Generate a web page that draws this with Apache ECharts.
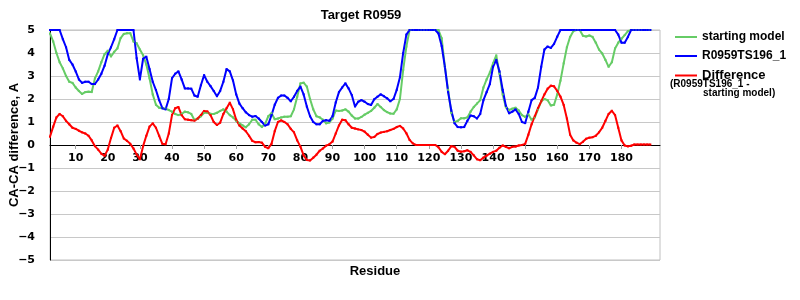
<!DOCTYPE html>
<html>
<head>
<meta charset="utf-8">
<script src="https://cdn.jsdelivr.net/npm/echarts@6/dist/echarts.min.js"></script>
<style>
html,body{margin:0;padding:0;background:#fff;}
#chart{width:800px;height:300px;}
</style>
</head>
<body>
<div id="chart"></div>
<script>
// Residue numbers shown on the category axis
var firstResidue = 2;
var lastResidue = 192;
var residues = [];
for (var r = firstResidue; r <= lastResidue; r++) residues.push(String(r));

var seriesNames = ['starting model', 'R0959TS196_1', 'Difference'];
var xTickLabels = ['10','20','30','40','50','60','70','80','90','100','110','120','130','140','150','160','170','180'];
var yTickLabels = [-5,-4,-3,-2,-1,0,1,2,3,4,5];

// starting model (residues 2..189)
var startingModel = [
  4.85, 4.5, 4.0, 3.6, 3.33, 3.0, 2.75, 2.7, 2.5, 2.35,
  2.22, 2.3, 2.32, 2.3, 2.9, 3.2, 3.6, 3.95, 4.1, 3.85,
  4.05, 4.2, 4.65, 4.83, 4.86, 4.86, 4.5, 4.42, 4.15, 3.9,
  3.5, 2.9, 2.2, 1.75, 1.62, 1.6, 1.58, 1.52, 1.45, 1.35,
  1.3, 1.35, 1.45, 1.42, 1.35, 1.09, 1.14, 1.25, 1.4, 1.4,
  1.36, 1.35, 1.4, 1.48, 1.55, 1.45, 1.3, 1.2, 1.05, 0.94,
  0.85, 0.77, 0.9, 1.1, 1.1, 0.9, 0.78, 0.92, 1.25, 1.38,
  1.12, 1.15, 1.2, 1.23, 1.23, 1.25, 1.55, 2.1, 2.68, 2.71,
  2.54, 2.0, 1.55, 1.25, 1.2, 1.1, 0.94, 0.98, 1.15, 1.5,
  1.48, 1.5, 1.55, 1.45, 1.28, 1.15, 1.15, 1.22, 1.32, 1.4,
  1.48, 1.62, 1.78, 1.65, 1.52, 1.43, 1.37, 1.36, 1.55, 2.0,
  3.26, 4.28, 5, 5, 5, 5, 5, 5, 5, 5,
  5, 5, 4.64, 3.4, 2.4, 1.4, 1.0, 1.05, 1.16, 1.16,
  1.2, 1.45, 1.65, 1.8, 1.95, 2.5, 2.85, 3.15, 3.55, 3.9,
  3.1, 2.2, 1.64, 1.52, 1.58, 1.62, 1.5, 1.3, 1.22, 1.33,
  1.1, 1.2, 1.55, 1.9, 2.0, 1.95, 1.72, 1.75, 2.2, 2.8,
  3.55, 4.25, 4.7, 4.95, 5, 5, 4.75, 4.72, 4.76, 4.7,
  4.45, 4.15, 3.98, 3.7, 3.4, 3.6, 4.2, 4.45, 4.62, 4.78,
  4.95, 5, 5, 5, 5, 5, 5, 5
];

// R0959TS196_1 (residues 2..189)
var model = [
  5, 5, 5, 5, 4.6, 4.25, 3.7, 3.5, 3.2, 2.85,
  2.7, 2.75, 2.75, 2.65, 2.65, 2.85, 3.1, 3.45, 3.95, 4.25,
  4.6, 5, 5, 5, 5, 5, 5, 3.77, 2.85, 3.75,
  3.84, 3.3, 2.75, 2.39, 1.95, 1.6, 1.55, 2.0, 2.9, 3.1,
  3.2, 2.85, 2.46, 2.46, 2.45, 2.15, 2.1, 2.6, 3.04, 2.75,
  2.56, 2.35, 2.12, 2.35, 2.75, 3.3, 3.2, 2.8, 2.2, 1.8,
  1.6, 1.42, 1.3, 1.23, 1.26, 1.15, 1.0, 0.85, 0.9, 1.3,
  1.75, 2.05, 2.15, 2.15, 2.05, 1.9, 2.1, 2.35, 2.54, 2.2,
  1.67, 1.25, 1.0, 0.9, 0.9, 1.05, 1.08, 1.05, 1.25, 1.85,
  2.3, 2.5, 2.68, 2.46, 2.17, 1.67, 1.88, 1.95, 1.88, 1.78,
  1.74, 1.99, 2.1, 2.2, 2.12, 2.03, 1.9, 2.0, 2.4, 2.95,
  3.99, 4.8, 5, 5, 5, 5, 5, 5, 5, 5,
  5, 4.85, 4.3, 3.4, 2.3, 1.5, 0.95, 0.78, 0.77, 0.78,
  1.05, 1.28, 1.25, 1.15, 1.35, 1.95, 2.3, 2.65, 3.4, 3.7,
  3.2, 2.4, 1.7, 1.38, 1.45, 1.55, 1.35, 1.0, 0.95, 1.45,
  1.95, 2.05, 2.5, 3.4, 4.15, 4.28, 4.22, 4.4, 4.71, 5,
  5, 5, 5, 5, 5, 5, 5, 5, 5, 5,
  5, 5, 5, 5, 5, 5, 5, 4.8, 4.45, 4.45,
  4.7, 5, 5, 5, 5, 5, 5, 5
];

// Difference (R0959TS196_1 - starting model), residues 2..189
var difference = [
  0.36, 0.8, 1.2, 1.35, 1.25, 1.05, 0.9, 0.75, 0.7, 0.62,
  0.55, 0.5, 0.4, 0.2, -0.05, -0.2, -0.38, -0.47, -0.2, 0.3,
  0.75, 0.85, 0.6, 0.28, 0.18, 0.05, -0.15, -0.42, -0.62, -0.05,
  0.4, 0.8, 0.94, 0.75, 0.4, 0.05, 0.03, 0.5, 1.3, 1.6,
  1.65, 1.3, 1.12, 1.1, 1.08, 1.06, 1.15, 1.3, 1.48, 1.46,
  1.3, 1.0, 0.87, 0.97, 1.35, 1.6, 1.84, 1.55, 1.1, 0.85,
  0.72, 0.6, 0.4, 0.18, 0.12, 0.13, 0.1, -0.08, -0.14, 0.05,
  0.6, 1.0, 1.07, 1.0, 0.9, 0.7, 0.55, 0.2, -0.07, -0.45,
  -0.65, -0.67, -0.55, -0.42, -0.25, -0.15, -0.03, 0.03, 0.15, 0.5,
  0.85, 1.1, 1.08, 0.9, 0.75, 0.72, 0.68, 0.65, 0.58, 0.45,
  0.32, 0.35, 0.48, 0.54, 0.57, 0.6, 0.65, 0.7, 0.78, 0.83,
  0.72, 0.51, 0.22, 0.07, 0, 0, 0, 0, 0, 0,
  0, -0.1, -0.3, -0.4, -0.25, -0.05, -0.08, -0.25, -0.29, -0.27,
  -0.23, -0.3, -0.45, -0.62, -0.66, -0.55, -0.46, -0.38, -0.3, -0.25,
  -0.12, -0.02, -0.08, -0.14, -0.08, -0.07, -0.02, 0, 0.05, 0.45,
  0.9, 1.25, 1.6, 1.9, 2.2, 2.45, 2.58, 2.55, 2.35, 2.1,
  1.74, 1.15, 0.45, 0.2, 0.1, 0.04, 0.14, 0.27, 0.32, 0.34,
  0.4, 0.55, 0.75, 1.05, 1.35, 1.49, 1.3, 0.75, 0.2, -0.02,
  -0.06, -0.03, 0.02, 0.02, 0.02, 0.02, 0.02, 0.02
];

var colors = ['#66CC66', '#0000FF', '#FF0000'];
var FONT = '"Liberation Sans", Arial, sans-serif';
var TICKFONT = '"DejaVu Sans", sans-serif';

function isLabelled(idx, val) {
  return xTickLabels.indexOf(String(val)) >= 0;
}

function lineSeries(name, data, color) {
  return {
    name: name,
    type: 'line',
    data: data,
    clip: false,
    symbol: 'rect',
    symbolSize: 2,
    showSymbol: true,
    animation: false,
    lineStyle: { color: color, width: 2 },
    itemStyle: { color: color },
    emphasis: { disabled: true }
  };
}

var chart = echarts.init(document.getElementById('chart'), null, { renderer: 'canvas' });
chart.setOption({
  animation: false,
  backgroundColor: '#ffffff',
  color: colors,
  grid: {
    left: 50, right: 140, top: 30, bottom: 40,
    show: true, borderColor: '#c0c0c0', borderWidth: 1, backgroundColor: 'transparent'
  },
  legend: {
    orient: 'vertical',
    left: 670,
    top: 26,
    itemWidth: 22,
    itemHeight: 2,
    itemGap: 7,
    icon: 'rect',
    selectedMode: false,
    data: seriesNames,
    formatter: function (n) { return n === 'Difference' ? '{d|' + n + '}' : n; },
    textStyle: {
      fontFamily: FONT, fontWeight: 'bold', fontSize: 12, color: '#000',
      rich: { d: { fontFamily: FONT, fontWeight: 'bold', fontSize: 13, color: '#000' } }
    }
  },
  xAxis: {
    type: 'category',
    data: residues,
    boundaryGap: false,
    position: 'bottom',
    offset: -115,
    axisLine: { onZero: false, lineStyle: { color: '#000', width: 1 } },
    axisTick: { show: true, interval: isLabelled, length: 4, lineStyle: { color: '#a0a0a0' } },
    axisLabel: {
      interval: isLabelled,
      margin: 8,
      fontFamily: TICKFONT, fontWeight: 'bold', fontSize: 11, color: '#000'
    },
    splitLine: { show: false }
  },
  yAxis: {
    type: 'value',
    min: yTickLabels[0],
    max: yTickLabels[yTickLabels.length - 1],
    interval: 1,
    axisLine: { show: true, onZero: false, lineStyle: { color: '#000', width: 1 } },
    axisTick: { show: false },
    axisLabel: {
      margin: 15,
      fontFamily: TICKFONT, fontWeight: 'bold', fontSize: 11, color: '#000',
      formatter: function (v) { return v < 0 ? '\u2212' + Math.abs(v) : String(v); }
    },
    splitLine: { show: true, lineStyle: { color: '#c8c8c8', width: 1 } }
  },
  graphic: [
    { type: 'text', x: 361, y: 15, style: { text: 'Target R0959', fill: '#000', font: 'bold 13px ' + FONT, align: 'center', verticalAlign: 'middle' } },
    { type: 'text', x: 375, y: 271, style: { text: 'Residue', fill: '#000', font: 'bold 13px ' + FONT, align: 'center', verticalAlign: 'middle' } },
    { type: 'text', x: 14, y: 145, rotation: Math.PI / 2, style: { text: 'CA-CA difference, A', fill: '#000', font: 'bold 13px ' + FONT, align: 'center', verticalAlign: 'middle' } },
    { type: 'text', x: 670, y: 84, style: { text: '(R0959TS196_1 -', fill: '#000', font: 'bold 10px ' + FONT, align: 'left', verticalAlign: 'middle' } },
    { type: 'text', x: 703, y: 93, style: { text: 'starting model)', fill: '#000', font: 'bold 10px ' + FONT, align: 'left', verticalAlign: 'middle' } }
  ],
  series: [
    lineSeries(seriesNames[0], startingModel, colors[0]),
    lineSeries(seriesNames[1], model, colors[1]),
    lineSeries(seriesNames[2], difference, colors[2])
  ]
});
</script>
</body>
</html>
